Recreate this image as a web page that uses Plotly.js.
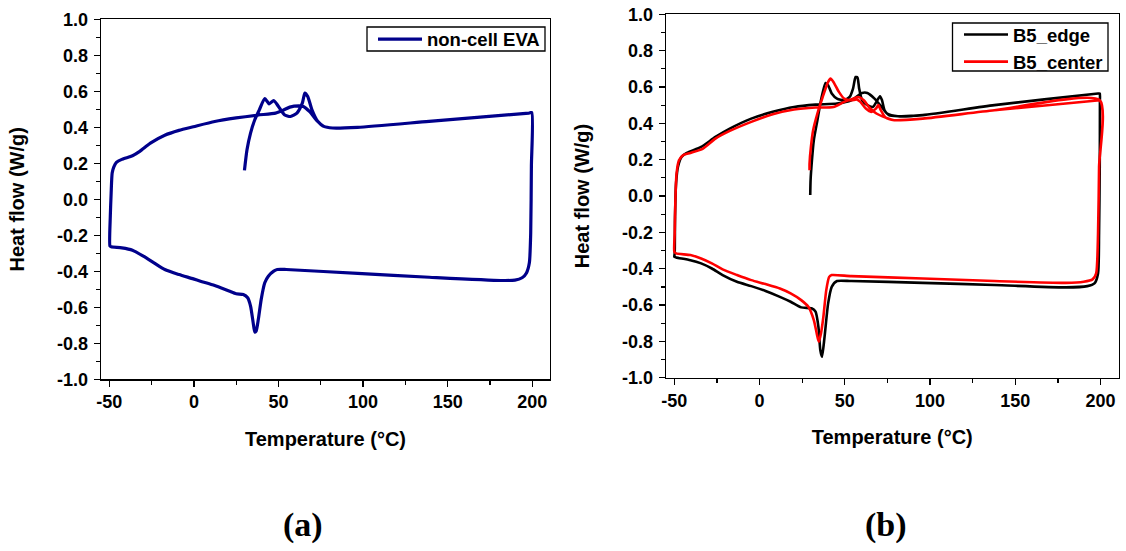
<!DOCTYPE html>
<html>
<head>
<meta charset="utf-8">
<script src="https://cdn.plot.ly/plotly-3.0.1.min.js"></script>
<style>
  html, body { margin: 0; padding: 0; background: #ffffff; }
  #chart { width: 1126px; height: 551px; }
</style>
</head>
<body>
<div id="chart"></div>
<script>
// DSC thermograms: first heating (from 30 °C) -> cooling (200 to -50 °C) -> second heating (-50 to 200 °C)

// (a) non-cell EVA
const evaTemp = [
  29.9, 31.4, 33.5, 36.0, 38.7, 41.9, 44.5, 47.2, 50.0, 53.5, 57.1, 60.9, 64.1, 65.6, 67.3, 69.8, 73.2, 76.8, 82.0, 96.8, 139.0, 198.0, 199.7,
  199.5, 199.1, 198.3, 196.6, 194.0, 189.8, 181.4, 139.1, 96.8, 54.6, 49.3, 47.2, 44.0, 41.9, 39.8, 38.1, 36.8, 36.0, 35.2, 33.5, 31.8, 29.2, 25.0, 20.8, 12.3, 3.9, -0.3, -8.8, -17.2, -23.6, -29.9, -36.3, -42.6, -48.9, -49.6,
  -49.4, -48.9, -48.3, -47.3, -45.8, -42.6, -36.3, -32.0, -25.7, -17.2, -8.8, -0.3, 12.3, 25.0, 37.7, 48.3, 52.5, 56.7, 62.0, 64.7, 68.3, 73.2, 76.8, 82.0, 96.8, 139.0, 198.0, 199.7
];
const evaHeat = [
  0.161, 0.275, 0.368, 0.442, 0.497, 0.560, 0.530, 0.549, 0.516, 0.470, 0.460, 0.479, 0.534, 0.590, 0.571, 0.497, 0.433, 0.405, 0.396, 0.400, 0.433, 0.479, 0.482,
  0.183, -0.187, -0.353, -0.409, -0.436, -0.449, -0.451, -0.433, -0.412, -0.390, -0.390, -0.399, -0.427, -0.464, -0.556, -0.667, -0.732, -0.737, -0.695, -0.593, -0.547, -0.529, -0.525, -0.510, -0.479, -0.455, -0.442, -0.418, -0.390, -0.353, -0.316, -0.283, -0.270, -0.264, -0.260,
  -0.094, 0.035, 0.146, 0.180, 0.205, 0.222, 0.242, 0.266, 0.312, 0.356, 0.383, 0.403, 0.432, 0.452, 0.468, 0.479, 0.494, 0.512, 0.519, 0.516, 0.488, 0.433, 0.405, 0.396, 0.400, 0.433, 0.479, 0.482
];

// (b) B5_edge
const edgeTemp = [
  29.7, 29.9, 30.7, 31.8, 33.9, 36.0, 38.7, 40.2, 42.3, 45.4, 49.6, 52.8, 54.8, 56.3, 57.4, 58.4, 60.1, 63.2, 66.4, 68.5, 70.6, 71.8, 73.3, 75.8, 81.1, 95.7, 137.7, 198.5, 199.5,
  199.6, 199.5, 199.1, 198.5, 196.4, 192.2, 179.6, 137.7, 95.7, 53.8, 45.4, 42.3, 40.2, 38.1, 36.6, 35.6, 34.5, 32.8, 30.7, 24.4, 18.2, 11.9, 3.5, -4.9, -13.3, -21.7, -28.0, -34.3, -40.6, -49.0, -50.0,
  -49.8, -49.6, -49.0, -47.9, -45.8, -42.7, -34.3, -25.9, -17.5, -4.9, 7.7, 20.2, 32.8, 45.4, 53.8, 60.1, 63.2, 67.4, 71.6, 74.8, 81.1, 95.7, 137.7, 198.5, 199.5
];
const edgeHeat = [
  0.005, 0.087, 0.197, 0.307, 0.417, 0.527, 0.622, 0.610, 0.564, 0.536, 0.527, 0.545, 0.591, 0.655, 0.652, 0.591, 0.527, 0.500, 0.490, 0.518, 0.549, 0.527, 0.472, 0.445, 0.439, 0.445, 0.500, 0.564, 0.564,
  0.527, 0.160, -0.206, -0.426, -0.481, -0.496, -0.503, -0.490, -0.478, -0.468, -0.468, -0.500, -0.591, -0.775, -0.885, -0.848, -0.720, -0.637, -0.619, -0.613, -0.582, -0.555, -0.523, -0.496, -0.472, -0.435, -0.399, -0.371, -0.353, -0.338, -0.335,
  -0.316, -0.115, 0.069, 0.160, 0.215, 0.237, 0.270, 0.325, 0.371, 0.426, 0.463, 0.490, 0.503, 0.509, 0.527, 0.567, 0.567, 0.536, 0.490, 0.454, 0.439, 0.445, 0.500, 0.564, 0.564
];

// (b) B5_center
const centerTemp = [
  29.3, 29.3, 30.1, 31.4, 33.9, 37.0, 40.2, 41.6, 43.3, 46.5, 49.6, 53.8, 57.0, 59.1, 62.3, 65.4, 68.2, 69.7, 71.1, 73.9, 79.0, 95.7, 137.7, 199.5,
  199.1, 198.5, 197.4, 195.3, 190.1, 179.6, 137.7, 95.7, 53.8, 42.3, 40.8, 39.1, 37.4, 36.0, 34.7, 33.5, 31.8, 28.6, 24.4, 18.2, 11.9, 3.5, -4.9, -13.3, -21.7, -28.0, -34.3, -40.6, -49.0, -50.0,
  -49.8, -49.4, -48.7, -47.3, -44.8, -40.6, -33.2, -25.9, -17.5, -4.9, 7.7, 20.2, 32.8, 43.3, 49.6, 54.8, 58.0, 61.1, 64.3, 68.5, 73.9, 79.0, 95.7, 137.7, 199.5
];
const centerHeat = [
  0.142, 0.179, 0.270, 0.362, 0.454, 0.545, 0.628, 0.646, 0.628, 0.573, 0.536, 0.527, 0.531, 0.518, 0.481, 0.463, 0.481, 0.500, 0.472, 0.432, 0.417, 0.426, 0.472, 0.527,
  0.160, -0.206, -0.426, -0.459, -0.472, -0.478, -0.468, -0.454, -0.441, -0.435, -0.445, -0.518, -0.665, -0.756, -0.802, -0.756, -0.683, -0.610, -0.573, -0.536, -0.509, -0.485, -0.463, -0.435, -0.404, -0.371, -0.344, -0.325, -0.316, -0.307,
  -0.206, -0.023, 0.124, 0.197, 0.225, 0.237, 0.261, 0.316, 0.358, 0.408, 0.450, 0.476, 0.487, 0.490, 0.518, 0.536, 0.545, 0.527, 0.487, 0.454, 0.432, 0.417, 0.426, 0.472, 0.527
];

// Axis tick labels
const xTickVals = [-50, 0, 50, 100, 150, 200];
const xTickText = ['-50', '0', '50', '100', '150', '200'];
const yTickVals = [-1.0, -0.8, -0.6, -0.4, -0.2, 0.0, 0.2, 0.4, 0.6, 0.8, 1.0];
const yTickText = ['-1.0', '-0.8', '-0.6', '-0.4', '-0.2', '0.0', '0.2', '0.4', '0.6', '0.8', '1.0'];

const sans = 'Liberation Sans, Arial, sans-serif';
const boldFont = (size) => ({ family: sans, size: size, color: '#000000', weight: 'bold' });

function xAxis(domain, anchor) {
  return {
    domain: domain, anchor: anchor, range: [-54.9, 210.5],
    tickmode: 'array', tickvals: xTickVals, ticktext: xTickText,
    ticks: 'outside', ticklen: 6, tickwidth: 1.3, tickcolor: '#000',
    minor: { dtick: 25, tick0: 0, ticks: 'outside', ticklen: 4, tickwidth: 1.3, tickcolor: '#000', showgrid: false },
    showline: true, linecolor: '#000', linewidth: 1.3, mirror: true,
    showgrid: false, zeroline: false,
    tickfont: boldFont(18),
    title: { text: 'Temperature (°C)', font: boldFont(20), standoff: 20 },
    automargin: false
  };
}
function yAxis(domain, anchor) {
  return {
    domain: domain, anchor: anchor, range: [-1, 1],
    tickmode: 'array', tickvals: yTickVals, ticktext: yTickText,
    ticks: 'outside', ticklen: 6, tickwidth: 1.3, tickcolor: '#000',
    minor: { dtick: 0.1, tick0: 0, ticks: 'outside', ticklen: 4, tickwidth: 1.3, tickcolor: '#000', showgrid: false },
    showline: true, linecolor: '#000', linewidth: 1.3, mirror: true,
    showgrid: false, zeroline: false,
    tickfont: boldFont(18),
    ticklabelstandoff: 2,
    title: { text: 'Heat flow (W/g)', font: boldFont(20), standoff: 27 },
    automargin: false
  };
}

const traces = [
  { x: evaTemp, y: evaHeat, name: 'non-cell EVA', type: 'scatter', mode: 'lines',
    line: { color: '#00008B', width: 3.2, shape: 'spline', smoothing: 0.6 },
    xaxis: 'x', yaxis: 'y', legend: 'legend' },
  { x: edgeTemp, y: edgeHeat, name: 'B5_edge', type: 'scatter', mode: 'lines',
    line: { color: '#000000', width: 2.6, shape: 'spline', smoothing: 0.6 },
    xaxis: 'x2', yaxis: 'y2', legend: 'legend2' },
  { x: centerTemp, y: centerHeat, name: 'B5_center', type: 'scatter', mode: 'lines',
    line: { color: '#FF0000', width: 2.6, shape: 'spline', smoothing: 0.6 },
    xaxis: 'x2', yaxis: 'y2', legend: 'legend2' }
];

const W = 1126, H = 551;
// Legends are drawn without their own frame; a tight frame is added as a shape behind the entries
const legendStyle = {
  bgcolor: 'rgba(0,0,0,0)', borderwidth: 0,
  font: boldFont(18.5), xanchor: 'right', yanchor: 'top',
  traceorder: 'normal', tracegroupgap: 0, itemwidth: 44
};
const frame = (x0, y0, x1, y1) => ({
  type: 'rect', xref: 'paper', yref: 'paper', layer: 'above',
  x0: x0 / W, x1: x1 / W, y0: 1 - y0 / H, y1: 1 - y1 / H,
  line: { color: '#000000', width: 1.3 }, fillcolor: '#ffffff'
});

const layout = {
  width: W, height: H,
  margin: { l: 0, r: 0, t: 0, b: 0 },
  paper_bgcolor: '#ffffff', plot_bgcolor: '#ffffff',
  showlegend: true,
  xaxis: xAxis([101 / W, 550 / W], 'y'),
  yaxis: yAxis([1 - 379.3 / H, 1 - 19.3 / H], 'x'),
  xaxis2: xAxis([666 / W, 1118.5 / W], 'y2'),
  yaxis2: yAxis([1 - 377.7 / H, 1 - 14.3 / H], 'x2'),
  legend: Object.assign({ x: 545 / W, y: 1 - 20.5 / H }, legendStyle),
  legend2: Object.assign({ x: 1108 / W, y: 1 - 16 / H }, legendStyle),
  shapes: [frame(367, 27, 545, 51), frame(952.5, 23, 1108, 71)],
  annotations: [
    { text: '(a)', x: 303 / W, y: 1 - 525 / H, xref: 'paper', yref: 'paper', showarrow: false,
      xanchor: 'center', yanchor: 'middle',
      font: { family: 'Liberation Serif, Times New Roman, serif', size: 34, color: '#000', weight: 'bold' } },
    { text: '(b)', x: 886 / W, y: 1 - 525 / H, xref: 'paper', yref: 'paper', showarrow: false,
      xanchor: 'center', yanchor: 'middle',
      font: { family: 'Liberation Serif, Times New Roman, serif', size: 34, color: '#000', weight: 'bold' } }
  ]
};

Plotly.newPlot('chart', traces, layout, { displayModeBar: false, staticPlot: true });
</script>
</body>
</html>
